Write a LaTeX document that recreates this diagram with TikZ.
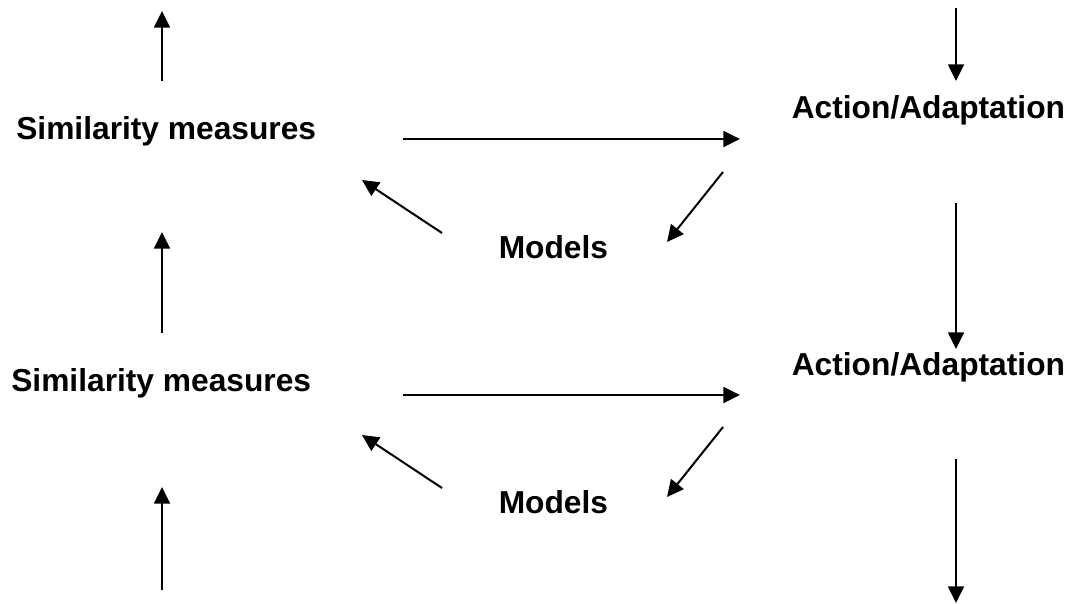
\documentclass[tikz,border=0pt]{standalone}
\usepackage{fontspec}
\setmainfont{Liberation Sans}
\usetikzlibrary{arrows.meta}
\tikzset{
  lbl/.style={inner sep=0pt, anchor=base west, font=\fontsize{23.8}{28}\selectfont\bfseries},
  vflow/.style={line width=1.2pt, -{Triangle[length=12.5pt,width=12pt]}},
  hflow/.style={line width=1.5pt, -{Triangle[length=12.5pt,width=12pt]}},
}
\begin{document}
\begin{tikzpicture}[x=0.75pt,y=-0.75pt]
\useasboundingbox (0,0) rectangle (1069,603);
% labels
\node[lbl] (sim1) at (16,139) {Similarity measures};
\node[lbl] (act1) at (791.5,118) {Action/Adaptation};
\node[lbl] (mod1) at (498.5,258) {Models};
\node[lbl] (sim2) at (11,391) {Similarity measures};
\node[lbl] (act2) at (791.5,375) {Action/Adaptation};
\node[lbl] (mod2) at (498.5,513) {Models};
% coordinates
\coordinate (l1a) at (162,81);  \coordinate (l1b) at (162,11);
\coordinate (l2a) at (162,333); \coordinate (l2b) at (162,232);
\coordinate (l3a) at (162,590); \coordinate (l3b) at (162,487);
\coordinate (r1a) at (956,8);   \coordinate (r1b) at (956,81);
\coordinate (r2a) at (956,203); \coordinate (r2b) at (956,349);
\coordinate (r3a) at (956,459); \coordinate (r3b) at (956,603);
\coordinate (h1a) at (403,139); \coordinate (h1b) at (740,139);
\coordinate (h2a) at (403,395); \coordinate (h2b) at (740,395);
\coordinate (ms1a) at (442,233); \coordinate (ms1b) at (362,180);
\coordinate (am1a) at (723,172); \coordinate (am1b) at (667,242);
\coordinate (ms2a) at (442,488); \coordinate (ms2b) at (362,435);
\coordinate (am2a) at (723,427); \coordinate (am2b) at (667,497);
% connectors
\draw[vflow] (l1a) -- (l1b);
\draw[vflow] (l2a) -- (l2b);
\draw[vflow] (l3a) -- (l3b);
\draw[vflow] (r1a) -- (r1b);
\draw[vflow] (r2a) -- (r2b);
\draw[vflow] (r3a) -- (r3b);
\draw[hflow] (h1a) -- (h1b);
\draw[hflow] (h2a) -- (h2b);
\draw[hflow] (ms1a) -- (ms1b);
\draw[hflow] (am1a) -- (am1b);
\draw[hflow] (ms2a) -- (ms2b);
\draw[hflow] (am2a) -- (am2b);
\end{tikzpicture}
\end{document}
